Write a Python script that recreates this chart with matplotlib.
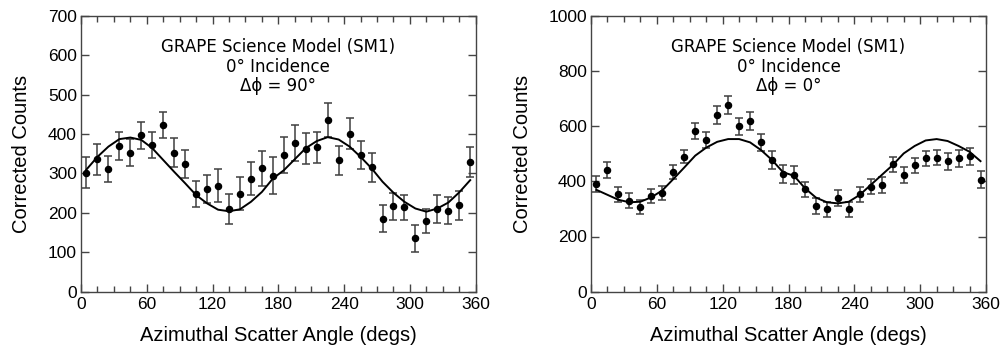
import matplotlib
matplotlib.use("Agg")
import matplotlib.pyplot as plt
from matplotlib.ticker import MultipleLocator

# ---- data ----
angles = [5, 15, 25, 35, 45, 55, 65, 75, 85, 95, 105, 115, 125, 135, 145, 155, 165, 175,
          185, 195, 205, 215, 225, 235, 245, 255, 265, 275, 285, 295, 305, 315, 325, 335, 345, 355]

left_counts = [302, 336, 311, 369, 353, 397, 372, 422, 353, 324, 247, 260, 269, 209, 249, 286, 313, 294,
               347, 377, 363, 366, 436, 333, 401, 347, 316, 185, 217, 214, 135, 180, 210, 205, 219, 330]
left_err = [39, 39, 33, 36, 34, 34, 33, 33, 36, 36, 33, 36, 42, 38, 42, 42, 45, 47,
            45, 45, 39, 39, 43, 36, 39, 36, 37, 34, 34, 32, 34, 31, 35, 34, 36, 38]
left_model = [310, 342, 368, 387, 391, 385, 364, 334, 304, 275, 245, 224, 208, 204, 209, 228, 253, 287,
              308, 336, 364, 382, 392, 386, 368, 342, 313, 279, 251, 228, 211, 203, 211, 226, 252, 283]

right_counts = [390, 441, 353, 330, 306, 348, 359, 433, 489, 582, 549, 640, 676, 599, 618, 541, 477, 427,
                422, 371, 310, 298, 341, 298, 353, 381, 386, 461, 422, 458, 483, 486, 472, 483, 490, 406]
right_err = [30, 28, 28, 27, 26, 25, 25, 26, 24, 28, 28, 32, 32, 31, 32, 32, 32, 32,
             32, 28, 30, 26, 29, 26, 27, 27, 28, 28, 28, 28, 28, 28, 32, 31, 31, 30]
right_model = [369, 351, 333, 324, 326, 342, 367, 408, 450, 493, 522, 543, 553, 553, 541, 513, 477, 433,
               420, 375, 341, 324, 320, 326, 351, 387, 423, 459, 501, 528, 548, 553, 546, 528, 507, 473]

x_ticks = [0, 60, 120, 180, 240, 300, 360]
left_title = ["GRAPE Science Model (SM1)", "0\u00b0 Incidence", "\u0394\u03d5 = 90\u00b0"]
right_title = ["GRAPE Science Model (SM1)", "0\u00b0 Incidence", "\u0394\u03d5 = 0\u00b0"]

xlabel = "Azimuthal Scatter Angle (degs)"
ylabel = "Corrected Counts"

plt.rcParams['font.family'] = ['Liberation Sans', 'DejaVu Sans']

fig = plt.figure(figsize=(10.04, 3.5), dpi=100)
H = 350.0
W = 1004.0
ax1 = fig.add_axes([81 / W, 1 - 291.7 / H, (475.7 - 81) / W, (291.7 - 15.7) / H])
ax2 = fig.add_axes([591 / W, 1 - 291.7 / H, (986 - 591) / W, (291.7 - 15.7) / H])

spine_col = '#444444'


def draw(ax, counts, err, model, ymax, ystep, title):
    ax.errorbar(angles, counts, yerr=err, fmt='o', color='black', ms=4.4,
                ecolor='#3f3f3f', elinewidth=1.1, capsize=3, capthick=1.1, zorder=3)
    ax.plot(angles, model, color='black', lw=1.4, zorder=4)
    ax.set_xlim(0, 360)
    ax.set_ylim(0, ymax)
    ax.set_xticks(x_ticks)
    ax.xaxis.set_minor_locator(MultipleLocator(15))
    ax.yaxis.set_major_locator(MultipleLocator(ystep))
    ax.tick_params(which='both', direction='in', top=True, right=True, color=spine_col,
                   labelsize=12.5)
    ax.tick_params(which='major', length=6, width=1)
    ax.tick_params(which='minor', length=4, width=1)
    ax.tick_params(axis='x', pad=4)
    ax.tick_params(axis='y', pad=3)
    for s in ax.spines.values():
        s.set_color(spine_col)
        s.set_linewidth(1.0)
    ax.set_xlabel(xlabel, fontsize=14.5, labelpad=10)
    ax.set_ylabel(ylabel, fontsize=14.5, labelpad=12)
    ys = [0.885, 0.813, 0.744]
    for t, y in zip(title, ys):
        ax.text(0.5, y, t, transform=ax.transAxes, ha='center', va='center',
                fontsize=12, family=['DejaVu Sans'])


draw(ax1, left_counts, left_err, left_model, 700, 100, left_title)
draw(ax2, right_counts, right_err, right_model, 1000, 200, right_title)

fig.savefig("out.png", dpi=100)
